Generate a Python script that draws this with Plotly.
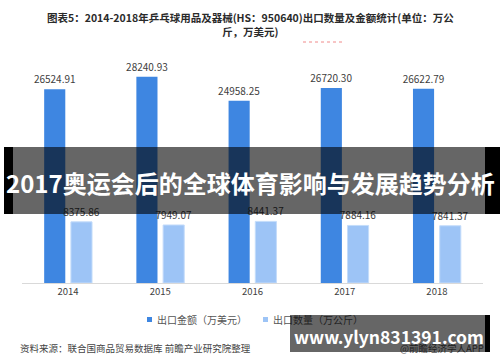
import plotly.graph_objects as go

years = ["2014", "2015", "2016", "2017", "2018"]
export_value = [26524.91, 28240.93, 24958.25, 26720.30, 26622.79]   # 出口金额（万美元）
export_qty = [8375.86, 7949.07, 8441.37, 7884.16, 7841.37]          # 出口数量（万公斤）
series_names = ["出口金额（万美元）", "出口数量（万公斤）"]

title_text = "图表5：2014-2018年乒乓球用品及器械(HS：950640)出口数量及金额统计(单位：万公<br>斤，万美元)"
banner_text = "2017奥运会后的全球体育影响与发展趋势分析"
source_text = "资料来源：联合国商品贸易数据库 前瞻产业研究院整理"
site_text = "www.ylyn831391.com"
app_text = "@前瞻经济学人APP"

W, H = 500, 362
FONT = "Noto Sans CJK SC"
DARK = "#3e86e1"
LIGHT = "#9dc4f6"


def px(x):
    return x / W


def py(y):
    return 1 - y / H


fig = go.Figure()
fig.add_trace(go.Bar(
    x=years, y=export_value, name=series_names[0],
    marker=dict(color=DARK, line=dict(width=0)),
    text=[f"{v:.2f}" for v in export_value], textposition="outside", constraintext="none",
    textfont=dict(size=10, color="#404040", family=FONT), cliponaxis=False,
))
fig.add_trace(go.Bar(
    x=years, y=export_qty, name=series_names[1],
    marker=dict(color=LIGHT, line=dict(width=1, color="#c4dcfa")),
    text=[f"{v:.2f}" for v in export_qty], textposition="outside", constraintext="none",
    textfont=dict(size=10, color="#404040", family=FONT), cliponaxis=False,
))

shapes = [
    # red dotted line under title
    dict(type="line", xref="paper", yref="paper", x0=px(303), x1=px(345), y0=py(42), y1=py(42),
         line=dict(color="#f08a8a", width=1, dash="dot")),
    # banner
    dict(type="rect", xref="paper", yref="paper", x0=px(13), x1=px(485), y0=py(214), y1=py(147),
         fillcolor="rgba(0,0,0,0.6)", line=dict(width=0), layer="above"),
    dict(type="rect", xref="paper", yref="paper", x0=px(4), x1=px(13), y0=py(214), y1=py(147),
         fillcolor="#000000", line=dict(width=0), layer="above"),
    dict(type="rect", xref="paper", yref="paper", x0=px(485), x1=px(500), y0=py(214), y1=py(147),
         fillcolor="#000000", line=dict(width=0), layer="above"),
    # legend squares
    dict(type="rect", xref="paper", yref="paper", x0=px(147), x1=px(152), y0=py(322), y1=py(317),
         fillcolor=DARK, line=dict(width=0)),
    dict(type="rect", xref="paper", yref="paper", x0=px(263), x1=px(268), y0=py(322), y1=py(317),
         fillcolor=LIGHT, line=dict(width=0)),
    # black strip right of watermark box
    dict(type="rect", xref="paper", yref="paper", x0=px(485), x1=px(490), y0=py(352), y1=py(315),
         fillcolor="#000000", line=dict(width=0)),
]

anns = [
    dict(text=title_text, x=0.5, y=py(8), xref="paper", yref="paper", xanchor="center", yanchor="top",
         showarrow=False, align="center",
         font=dict(size=10.5, color="#2a2a2a", family=FONT, weight="bold")),
    dict(text=banner_text, x=px(250), y=py(182), xref="paper", yref="paper", xanchor="center",
         yanchor="middle", showarrow=False, font=dict(size=24, color="#ffffff", family=FONT, weight="bold")),
    dict(text=series_names[0], x=px(155), y=py(319.5), xref="paper", yref="paper", xanchor="left",
         yanchor="middle", showarrow=False, font=dict(size=10, color="#555555", family=FONT)),
    dict(text=series_names[1], x=px(271), y=py(319.5), xref="paper", yref="paper", xanchor="left",
         yanchor="middle", showarrow=False, font=dict(size=10, color="#555555", family=FONT)),
    dict(text=source_text, x=px(18), y=py(348), xref="paper", yref="paper", xanchor="left",
         yanchor="middle", showarrow=False, font=dict(size=9.5, color="#444444", family=FONT)),
    dict(text=app_text, x=px(486), y=py(348), xref="paper", yref="paper", xanchor="right",
         yanchor="middle", showarrow=False, font=dict(size=9.5, color="#555555", family=FONT)),
    # watermark box (annotation so it covers legend text)
    dict(text=" ", x=px(290), y=py(315), xref="paper", yref="paper", xanchor="left", yanchor="top",
         width=195, height=37, bgcolor="rgba(0,0,0,0.6)", borderpad=0, borderwidth=0, showarrow=False),
    dict(text=site_text, x=px(389), y=py(336), xref="paper", yref="paper", xanchor="center",
         yanchor="middle", showarrow=False, font=dict(size=17.5, color="#ffffff", family=FONT, weight="bold")),
]

fig.update_layout(
    width=W, height=H,
    margin=dict(l=0, r=0, t=0, b=0),
    paper_bgcolor="#ffffff", plot_bgcolor="#ffffff",
    barmode="group", bargap=0.42, bargroupgap=0.21,
    showlegend=False,
    xaxis=dict(domain=[px(22), px(483)], showline=True, linecolor="#d9d9d9", linewidth=1,
               ticks="", showgrid=False, tickfont=dict(size=9.5, color="#404040", family=FONT),
               fixedrange=True),
    yaxis=dict(domain=[py(283), py(64)], range=[0, 30000], visible=False, showgrid=False,
               fixedrange=True),
    shapes=shapes, annotations=anns,
    font=dict(family=FONT),
)

fig.write_html("out.html")
